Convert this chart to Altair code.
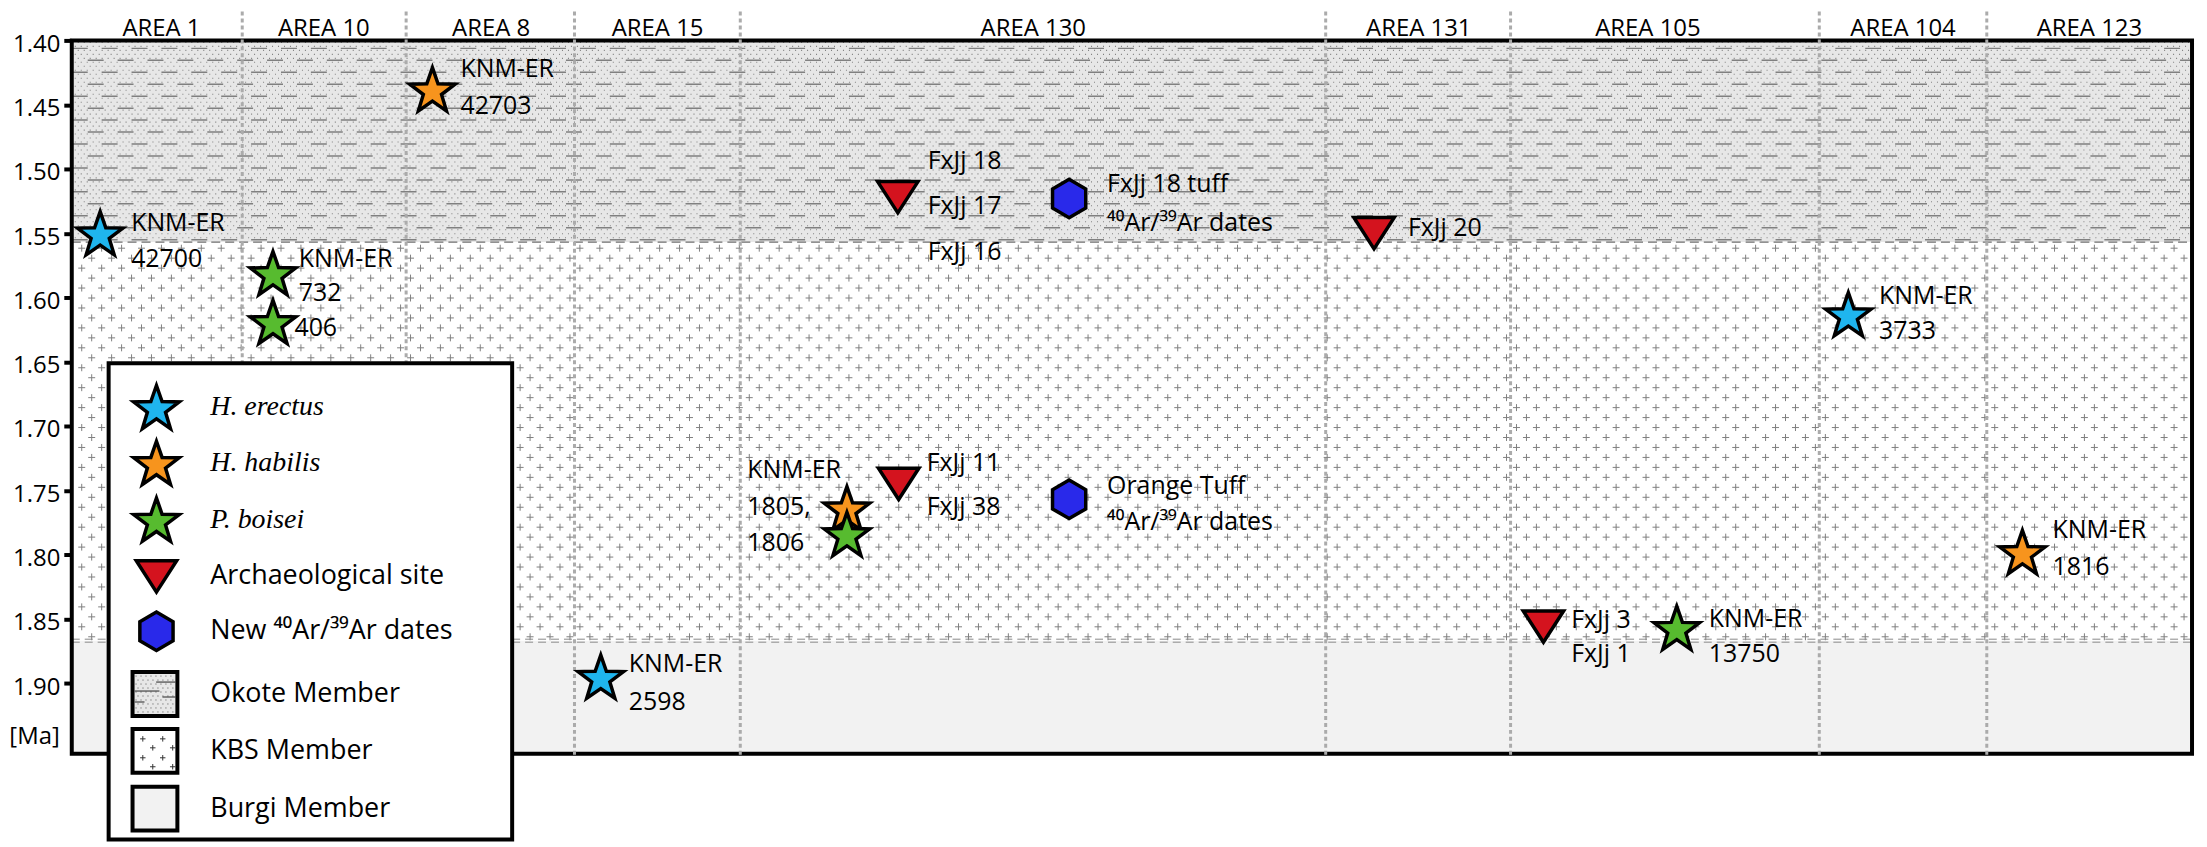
import math
import altair as alt
import numpy as np
import pandas as pd

# ------------------------------------------------------------------ data
area_names = ["AREA 1", "AREA 10", "AREA 8", "AREA 15", "AREA 130",
              "AREA 131", "AREA 105", "AREA 104", "AREA 123"]
area_bounds = [0, 80.4, 157.7, 237.1, 315.3, 591.4, 678.6, 824.2, 903.2, 1000]
area_label_x = [42.3, 118.9, 197.8, 276.3, 453.5, 635.3, 743.4, 863.7, 951.6]

member_names = ["Okote Member", "KBS Member", "Burgi Member"]
member_top = [1.40, 1.557, 1.867]
member_base = [1.557, 1.867, 1.955]

kinds = ["H. erectus", "H. habilis", "P. boisei", "Archaeological site",
         "New \u2074\u2070Ar/\u00b3\u2079Ar dates"]

find_kind = ["H. erectus", "H. habilis", "P. boisei", "P. boisei",
             "Archaeological site", kinds[4], "Archaeological site",
             "H. erectus", "H. habilis", "P. boisei", "Archaeological site",
             kinds[4], "Archaeological site", "P. boisei", "H. habilis",
             "H. erectus"]
find_x = [13.4, 170.1, 94.9, 94.9, 389.6, 470.4, 614.2, 249.5, 365.6, 365.6,
          390.0, 470.4, 694.1, 757.0, 920.0, 837.9]
find_age = [1.550, 1.438, 1.581, 1.619, 1.522, 1.523, 1.550, 1.895, 1.764,
            1.784, 1.745, 1.757, 1.856, 1.857, 1.798, 1.613]

AR = "\u2074\u2070Ar/\u00b3\u2079Ar dates"
label_text = ["KNM-ER", "42700", "KNM-ER", "42703", "KNM-ER", "732", "406",
              "FxJj 18", "FxJj 17", "FxJj 16", "FxJj 18 tuff", AR, "FxJj 20",
              "KNM-ER", "2598", "KNM-ER", "1805,", "1806", "FxJj 11", "FxJj 38",
              "Orange Tuff", AR, "FxJj 3", "FxJj 1", "KNM-ER", "13750",
              "KNM-ER", "1816", "KNM-ER", "3733"]
label_x = [28.0, 28.0, 183.3, 183.3, 107.1, 107.1, 105.0, 403.7, 403.7, 403.7,
           488.3, 488.3, 630.2, 262.7, 262.7, 318.6, 318.6, 318.6, 403.2, 403.2,
           488.3, 488.3, 707.2, 707.2, 772.1, 772.1, 934.2, 934.2, 852.4, 852.4]
label_age = [1.542, 1.570, 1.4225, 1.451, 1.570, 1.5965, 1.624, 1.494, 1.529,
             1.565, 1.512, 1.542, 1.546, 1.885, 1.915, 1.734, 1.763, 1.791,
             1.729, 1.763, 1.7465, 1.775, 1.851, 1.8775, 1.850, 1.8775, 1.781,
             1.810, 1.599, 1.626]

tick_values = [1.40, 1.45, 1.50, 1.55, 1.60, 1.65, 1.70, 1.75, 1.80, 1.85, 1.90]

# ------------------------------------------------------------------ style / layout
kind_fill = ["#1FB5EE", "#F7941D", "#57BB2F", "#D4131E", "#2929EA"]
member_fill = ["#e7e7e7", "#ffffff", "#f2f2f2"]
SANS = "Open Sans, Noto Sans, DejaVu Sans"
SERIF = "Liberation Serif, DejaVu Serif"

PX0, PY0, W, H = 72, 39, 2128, 716
X_MAX = 1000.0
Y_TOP, Y_BOT = 1.40, 1.955


def ux(px):
    return (px - PX0) / W * X_MAX


def ma(py):
    return Y_TOP + (py - PY0) / H * (Y_BOT - Y_TOP)


def py_of(m):
    return PY0 + (m - Y_TOP) / (Y_BOT - Y_TOP) * H


def star_path(r_in=0.40):
    pts = []
    for k in range(10):
        a = math.radians(-90 + 36 * k)
        r = 1.0 if k % 2 == 0 else r_in
        pts.append((r * math.cos(a), r * math.sin(a) + 0.0955))
    return "M" + "L".join(f"{x:.4f},{y:.4f}" for x, y in pts) + "Z"


STAR = star_path()
TRI = "M-0.845,-0.655L0.845,-0.655L0,0.655Z"
HEX = "M0,-0.803L0.695,-0.4015L0.695,0.4015L0,0.803L-0.695,0.4015L-0.695,-0.4015Z"
PLUS = "M-1,0L1,0M0,-1L0,1"
kind_shape = [STAR, STAR, STAR, TRI, HEX]
SYM_SIZE = 2300

xs = alt.Scale(domain=[0, X_MAX], nice=False, zero=False)
ys = alt.Scale(domain=[Y_TOP, Y_BOT], reverse=True, nice=False, zero=False)
shape_scale = alt.Scale(domain=kinds, range=kind_shape)
fill_scale = alt.Scale(domain=kinds, range=kind_fill)
member_scale = alt.Scale(domain=member_names, range=member_fill)

y_axis = alt.Axis(values=tick_values, format=".2f", labelFont=SANS,
                  labelFontSize=24, labelColor="black", tickColor="black",
                  tickWidth=4, tickSize=8, labelPadding=4, labelOffset=4,
                  domain=False, grid=False, title=None)


def X(f):
    return alt.X(f, type="quantitative", scale=xs, axis=None)


def Y(f):
    return alt.Y(f, type="quantitative", scale=ys, axis=y_axis)


# ------------------------------------------------------------------ member bands
members = pd.DataFrame({"member": member_names, "y": member_top,
                        "y2": member_base, "x": area_bounds[0],
                        "x2": area_bounds[-1]})
bands = alt.Chart(members).mark_rect().encode(
    x=X("x"), x2="x2", y=Y("y"), y2="y2",
    color=alt.Color("member:N", scale=member_scale, legend=None))

# textures (decoration)
ok0, ok1 = py_of(member_top[0]), py_of(member_base[0])
kb0, kb1 = py_of(member_top[1]), py_of(member_base[1])
right_px = PX0 + W

stip_rows = np.arange(ok0 + 2, ok1 - 1, 4)
stip = pd.DataFrame({"x": [ux(PX0 + 3 * (i % 2)) for i in range(len(stip_rows))],
                     "x2": ux(right_px), "y": [ma(v) for v in stip_rows]})
stipple = alt.Chart(stip).mark_rule(color="#808080", strokeWidth=1.1,
                                    strokeDash=[1, 5]).encode(
    x=X("x"), x2="x2", y=Y("y"))

dash_rows = np.arange(ok0 + 8, ok1 - 2, 12)
dsh = pd.DataFrame({"x": [ux(PX0 + 16 * (i % 2)) for i in range(len(dash_rows))],
                    "x2": ux(right_px), "y": [ma(v) for v in dash_rows]})
okote_dashes = alt.Chart(dsh).mark_rule(color="#808080", strokeWidth=1.5,
                                        strokeDash=[16, 14]).encode(
    x=X("x"), x2="x2", y=Y("y"))

plus_rows = np.arange(kb0 + 6, kb1 - 3, 10)
ph = pd.DataFrame({"x": [ux(PX0 + 6.5 + 10 * (i % 2)) for i in range(len(plus_rows))],
                   "x2": ux(right_px), "y": [ma(v) for v in plus_rows]})
plus_h = alt.Chart(ph).mark_rule(color="#808080", strokeWidth=1,
                                 strokeDash=[7, 13]).encode(
    x=X("x"), x2="x2", y=Y("y"))
plus_cols = np.arange(PX0 + 10, right_px, 10)
pv = pd.DataFrame({"x": [ux(v) for v in plus_cols],
                   "y": [ma(kb0 + 6 - 3.5 + 10 * (i % 2)) for i in range(len(plus_cols))],
                   "y2": ma(kb1)})
plus_v = alt.Chart(pv).mark_rule(color="#808080", strokeWidth=1,
                                 strokeDash=[7, 13]).encode(
    x=X("x"), y=Y("y"), y2="y2")

b1 = pd.DataFrame({"x": [area_bounds[0]], "x2": [area_bounds[-1]],
                   "y": [member_base[0]]})
bound1 = alt.Chart(b1).mark_rule(color="#6f6f6f", strokeWidth=1.3,
                                 strokeDash=[9, 5]).encode(
    x=X("x"), x2="x2", y=Y("y"))
b2 = pd.DataFrame({"x": area_bounds[0], "x2": area_bounds[-1],
                   "y": [ma(kb1 - 1.5), ma(kb1 + 1.5)]})
bound2 = alt.Chart(b2).mark_rule(color="#8a8a8a", strokeWidth=1,
                                 strokeDash=[8, 5]).encode(
    x=X("x"), x2="x2", y=Y("y"))

frame_df = pd.DataFrame({"x": [area_bounds[0]], "x2": [area_bounds[-1]],
                         "y": [Y_TOP], "y2": [Y_BOT]})
frame = alt.Chart(frame_df).mark_rect(fill="white", fillOpacity=0,
                                      stroke="black", strokeWidth=4).encode(
    x=X("x"), x2="x2", y=Y("y"), y2="y2")

sep = pd.DataFrame({"x": area_bounds[1:-1], "y": ma(10), "y2": ma(PY0 + H + 2)})
separators = alt.Chart(sep).mark_rule(color="#ababab", strokeWidth=3,
                                      strokeDash=[4, 3]).encode(
    x=X("x"), y=Y("y"), y2="y2")

areas = pd.DataFrame({"area": area_names, "x": area_label_x, "y": ma(35)})
area_text = alt.Chart(areas).mark_text(font=SANS, fontSize=24, color="black",
                                       align="center", baseline="alphabetic").encode(
    x=X("x"), y=Y("y"), text="area:N")

finds = pd.DataFrame({"kind": find_kind, "x": find_x, "age": find_age})
points = alt.Chart(finds).mark_point(filled=True, size=SYM_SIZE, stroke="black",
                                     strokeWidth=3.5, opacity=1).encode(
    x=X("x"), y=Y("age"),
    shape=alt.Shape("kind:N", scale=shape_scale, legend=None),
    fill=alt.Fill("kind:N", scale=fill_scale, legend=None))

labels = pd.DataFrame({"t": label_text, "x": label_x, "age": label_age})
label_marks = alt.Chart(labels).mark_text(font=SANS, fontSize=25, color="black",
                                          align="left", baseline="middle").encode(
    x=X("x"), y=Y("age"), text="t:N")

ma_df = pd.DataFrame({"t": ["[Ma]"], "x": [ux(60)], "y": [1.942]})
ma_text = alt.Chart(ma_df).mark_text(font=SANS, fontSize=24, color="black",
                                     align="right", baseline="middle").encode(
    x=X("x"), y=Y("y"), text="t:N")

# ------------------------------------------------------------------ legend
leg_rows = [407, 463, 520, 577, 632, 695, 752, 810]
lbox = pd.DataFrame({"x": [ux(109)], "x2": [ux(514)], "y": [ma(363)], "y2": [ma(841)]})
legend_box = alt.Chart(lbox).mark_rect(fill="white", stroke="black",
                                       strokeWidth=4).encode(
    x=X("x"), x2="x2", y=Y("y"), y2="y2")

lsym = pd.DataFrame({"kind": kinds, "x": ux(157), "y": [ma(v) for v in leg_rows[:5]]})
legend_sym = alt.Chart(lsym).mark_point(filled=True, size=SYM_SIZE, stroke="black",
                                        strokeWidth=3.5, opacity=1).encode(
    x=X("x"), y=Y("y"),
    shape=alt.Shape("kind:N", scale=shape_scale, legend=None),
    fill=alt.Fill("kind:N", scale=fill_scale, legend=None))

lsw = pd.DataFrame({"member": member_names, "x": ux(133), "x2": ux(178),
                    "y": [ma(v - 22) for v in leg_rows[5:]],
                    "y2": [ma(v + 22) for v in leg_rows[5:]]})
legend_sw = alt.Chart(lsw).mark_rect(stroke="black", strokeWidth=4).encode(
    x=X("x"), x2="x2", y=Y("y"), y2="y2",
    color=alt.Color("member:N", scale=member_scale, legend=None))

sw_stip_rows = np.arange(leg_rows[5] - 18, leg_rows[5] + 19, 4)
sws = pd.DataFrame({"x": [ux(136 + 2 * (i % 2)) for i in range(len(sw_stip_rows))],
                    "x2": ux(175.5), "y": [ma(v) for v in sw_stip_rows]})
sw_stipple = alt.Chart(sws).mark_rule(color="#555555", strokeWidth=1,
                                      strokeDash=[1, 4]).encode(
    x=X("x"), x2="x2", y=Y("y"))
swd = pd.DataFrame({"x": [ux(156.7), ux(135), ux(163), ux(135)],
                    "x2": [ux(176.5), ux(160), ux(176.5), ux(145)],
                    "y": [ma(683), ma(692), ma(698), ma(703)]})
sw_dash = alt.Chart(swd).mark_rule(color="#444444", strokeWidth=1.2).encode(
    x=X("x"), x2="x2", y=Y("y"))
swp = pd.DataFrame({"x": [ux(v) for v in [143.3, 163.3, 153.3, 173.3, 143.3, 163.3, 153.3, 173.3]],
                    "y": [ma(v) for v in [740, 740, 749, 749, 759, 759, 768, 768]]})
sw_plus = alt.Chart(swp).mark_point(shape=PLUS, size=30, filled=False,
                                    stroke="#333333", strokeWidth=1, opacity=1).encode(
    x=X("x"), y=Y("y"))

lt1 = pd.DataFrame({"t": kinds[:3], "x": ux(211), "y": [ma(v) for v in leg_rows[:3]]})
legend_txt1 = alt.Chart(lt1).mark_text(font=SERIF, fontStyle="italic", fontSize=28,
                                       color="black", align="left",
                                       baseline="middle").encode(
    x=X("x"), y=Y("y"), text="t:N")
lt2 = pd.DataFrame({"t": kinds[3:] + member_names, "x": ux(211),
                    "y": [ma(v) for v in leg_rows[3:]]})
legend_txt2 = alt.Chart(lt2).mark_text(font=SANS, fontSize=27, color="black",
                                       align="left", baseline="middle").encode(
    x=X("x"), y=Y("y"), text="t:N")

chart = alt.layer(
    bands, stipple, okote_dashes, plus_h, plus_v, bound1, bound2, frame,
    separators, area_text, points, label_marks, ma_text,
    legend_box, legend_sym, legend_sw, sw_stipple, sw_dash, sw_plus,
    legend_txt1, legend_txt2,
).properties(
    width=W, height=H,
    autosize=alt.AutoSizeParams(type="none"),
    padding={"left": PX0 - 8, "top": PY0 - 8, "right": 7, "bottom": 88},
)

chart.save("out.html", embed_options={"renderer": "svg", "actions": False})
